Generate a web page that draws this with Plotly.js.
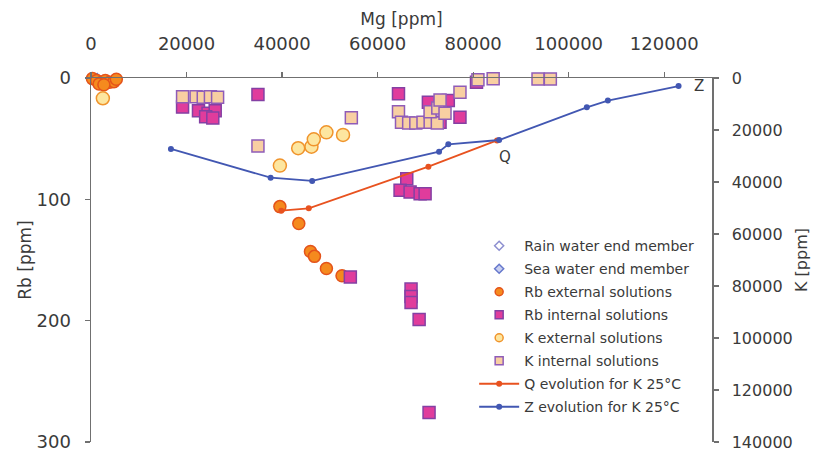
<!DOCTYPE html>
<html>
<head>
<meta charset="utf-8">
<script src="https://cdn.plot.ly/plotly-3.0.1.min.js"></script>
<style>
  html, body { margin: 0; padding: 0; background: #ffffff; }
  #chart { width: 814px; height: 456px; }
</style>
</head>
<body>
<div id="chart"></div>
<script>
// End members (Mg, Rb in ppm)
const mgRain = [1];
const rbRain = [0];
const mgSea = [1290];
const rbSea = [0.12];

// Rb in external solutions (left axis)
const mgRbExt = [300, 1200, 2200, 3000, 3900, 4800, 5300, 1700, 2700, 39540, 43500, 45940, 46780, 49280, 52550];
const rbExt   = [0.5, 2, 3.5, 2, 3.5, 3, 1, 5, 5.5, 106, 120, 143, 147, 157, 163];

// Rb in internal solutions (left axis)
const mgRbInt = [19170, 22500, 24500, 26000, 24000, 25500, 34950, 64370, 70630, 74800, 73070, 77240, 80700,
                 66100, 64700, 66800, 68900, 69940, 54290, 67000, 67000, 67000, 68690, 70770];
const rbInt   = [24, 27, 29, 27, 32, 33, 13.6, 13, 19.9, 18.5, 36.4, 32.3, 3.5,
                 83, 92.6, 94, 95.3, 95.3, 164, 174, 180, 185, 199, 275.6];

// K in external solutions (right axis)
const mgKExt = [2480, 39540, 43370, 46150, 46640, 49280, 52760];
const kExt   = [7800, 33700, 27000, 26400, 23600, 20900, 21900];

// K in internal solutions (right axis)
const mgKInt = [19170, 22000, 23500, 25000, 26500, 34950, 54500, 64370, 65000, 66500, 68000, 69500, 71000,
                72500, 70980, 72600, 74110, 73070, 77240, 81000, 84190, 93580, 96160];
const kInt   = [7200, 7200, 7400, 7200, 7400, 26150, 15270, 13000, 17000, 17300, 17300, 17000, 17000,
                17300, 12960, 11500, 13580, 8460, 5500, 700, 300, 400, 400];

// Modelled K evolution paths at 25 °C (right axis)
const mgQ = [39830, 45590, 70630, 85000];
const kQ  = [51040, 50120, 34100, 24000];
const mgZ = [16730, 37600, 46300, 72860, 74800, 85440, 103800, 108200, 123000];
const kZ  = [27300, 38350, 39600, 28350, 25500, 23850, 11270, 8700, 3080];

// Axis ticks
const mgTicks = [0, 20000, 40000, 60000, 80000, 100000, 120000];
const rbTicks = [0, 100, 200, 300];
const kTicks  = [0, 20000, 40000, 60000, 80000, 100000, 120000, 140000];

const names = [
  'Rain water end member',
  'Sea water end member',
  'Rb external solutions',
  'Rb internal solutions',
  'K external solutions',
  'K internal solutions',
  'Q evolution for K 25°C',
  'Z evolution for K 25°C'
];

const C = {
  rain: '#8d8fd0', sea: '#6678cc',
  rbExtFill: '#f58a1e', rbExtLine: '#e4531a',
  rbIntFill: '#e03c9c', rbIntLine: '#8440a4',
  kExtFill: '#fde6a0', kExtLine: '#f0942c',
  kIntFill: '#f8cfa2', kIntLine: '#8f5cb8',
  q: '#e8521f', z: '#4257b2'
};

const FONT = 'DejaVu Sans, Arial, sans-serif';
const TXT = '#3a3a3a';

// Marker styles for plotted points and their (smaller) legend swatches
const styles = [
  { mode: 'markers', marker: { symbol: 'diamond', color: '#ffffff', line: { color: C.rain, width: 1.5 } } },
  { mode: 'markers', marker: { symbol: 'diamond', color: '#c9d0f0', line: { color: C.sea, width: 1.5 } } },
  { mode: 'markers', marker: { symbol: 'circle', color: C.rbExtFill, line: { color: C.rbExtLine, width: 1.5 } } },
  { mode: 'markers', marker: { symbol: 'square', color: C.rbIntFill, line: { color: C.rbIntLine, width: 1.5 } } },
  { mode: 'markers', marker: { symbol: 'circle', color: C.kExtFill, line: { color: C.kExtLine, width: 1.5 } } },
  { mode: 'markers', marker: { symbol: 'square', color: C.kIntFill, line: { color: C.kIntLine, width: 1.5 } } },
  { mode: 'lines+markers', line: { color: C.q, width: 1.8 }, marker: { symbol: 'circle', color: C.q } },
  { mode: 'lines+markers', line: { color: C.z, width: 1.8 }, marker: { symbol: 'circle', color: C.z } }
];
const plotSizes = [7, 7, 12, 12, 13, 12, 6, 6];
const legendSizes = [7, 7, 8, 8, 8, 8, 6, 6];

const series = [
  { x: mgRain, y: rbRain, yaxis: 'y' },
  { x: mgSea, y: rbSea, yaxis: 'y' },
  { x: mgRbExt, y: rbExt, yaxis: 'y' },
  { x: mgRbInt, y: rbInt, yaxis: 'y' },
  { x: mgKExt, y: kExt, yaxis: 'y2' },
  { x: mgKInt, y: kInt, yaxis: 'y2' },
  { x: mgQ, y: kQ, yaxis: 'y2' },
  { x: mgZ, y: kZ, yaxis: 'y2' }
];

function styled(i, size) {
  const s = JSON.parse(JSON.stringify(styles[i]));
  s.marker.size = size;
  return s;
}

const traces = [];
series.forEach((s, i) => {
  traces.push(Object.assign(styled(i, plotSizes[i]), {
    type: 'scatter', x: s.x, y: s.y, yaxis: s.yaxis,
    name: names[i], legendgroup: 'g' + i, showlegend: false,
    cliponaxis: false, hoverinfo: 'x+y+name'
  }));
});
// Legend entries with compact swatches
series.forEach((s, i) => {
  traces.push(Object.assign(styled(i, legendSizes[i]), {
    type: 'scatter', x: [null], y: [null], yaxis: s.yaxis,
    name: names[i], legendgroup: 'g' + i, showlegend: true
  }));
});

const axisCommon = {
  showline: true, linecolor: '#707070', linewidth: 1.5,
  ticks: 'outside', ticklen: 5, tickwidth: 1.2, tickcolor: '#707070',
  showgrid: false, zeroline: false,
  exponentformat: 'none', separatethousands: false,
  tickmode: 'array'
};

const layout = {
  width: 814, height: 456,
  margin: { l: 91, r: 102, t: 78, b: 14 },
  paper_bgcolor: '#ffffff', plot_bgcolor: '#ffffff',
  font: { family: FONT, color: TXT },
  showlegend: true,
  xaxis: Object.assign({}, axisCommon, {
    side: 'top', range: [0, 130000],
    tickvals: mgTicks, ticktext: mgTicks.map(String),
    tickfont: { size: 18, color: TXT }, ticklabelstandoff: 14,
    title: { text: 'Mg [ppm]', font: { size: 17, color: TXT }, standoff: 3 }
  }),
  yaxis: Object.assign({}, axisCommon, {
    range: [300, 0],
    tickvals: rbTicks, ticktext: rbTicks.map(String),
    tickfont: { size: 18, color: TXT }, ticklabelstandoff: 10,
    title: { text: 'Rb [ppm]', font: { size: 17, color: TXT }, standoff: 0 }
  }),
  yaxis2: Object.assign({}, axisCommon, {
    overlaying: 'y', side: 'right', range: [140000, 0],
    tickvals: kTicks, ticktext: kTicks.map(String),
    tickfont: { size: 16, color: TXT }, ticklabelstandoff: 10,
    title: { text: 'K [ppm]', font: { size: 16, color: TXT }, standoff: 4 }
  }),
  legend: {
    x: 0.617, y: 0.582, xanchor: 'left', yanchor: 'top',
    bgcolor: 'rgba(255,255,255,0)',
    font: { family: FONT, size: 14, color: TXT },
    traceorder: 'grouped', tracegroupgap: 1.8, itemwidth: 40
  },
  annotations: [
    { x: 86630, y: 30380, xref: 'x', yref: 'y2', text: 'Q', showarrow: false,
      font: { family: FONT, size: 15, color: TXT } },
    { x: 127300, y: 3080, xref: 'x', yref: 'y2', text: 'Z', showarrow: false,
      font: { family: FONT, size: 15, color: TXT } }
  ]
};

Plotly.newPlot('chart', traces, layout, { displayModeBar: false, staticPlot: true });
</script>
</body>
</html>
